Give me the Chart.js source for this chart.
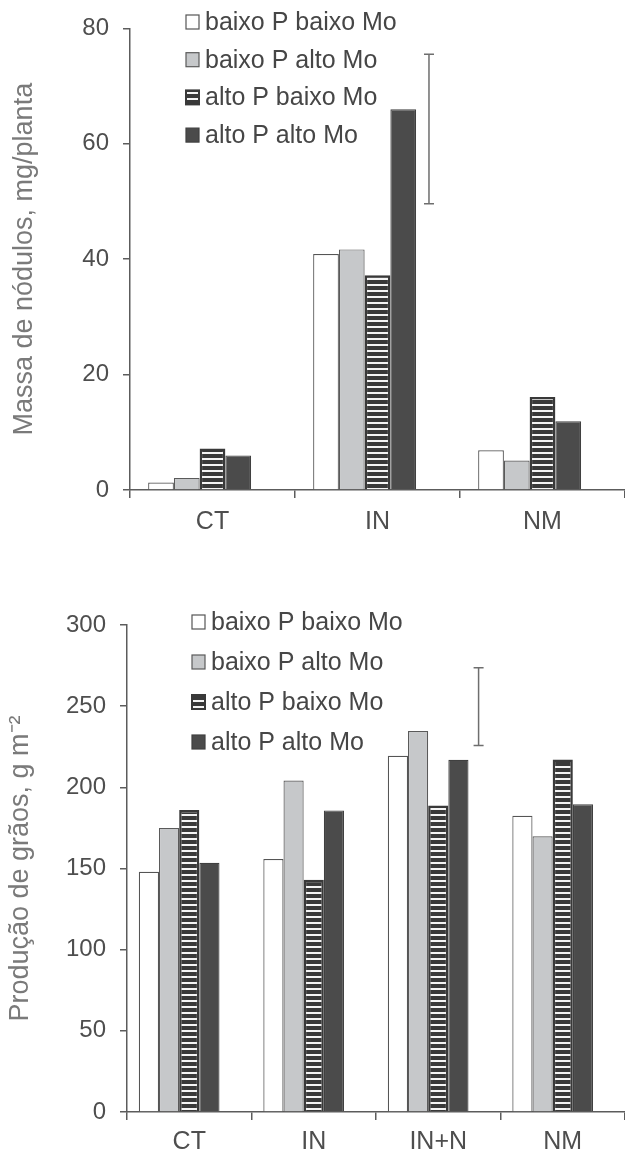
<!DOCTYPE html>
<html lang="pt">
<head>
<meta charset="utf-8">
<title>Massa de nódulos e produção de grãos</title>
<script src="https://cdn.jsdelivr.net/npm/chart.js@4.4.1/dist/chart.umd.min.js"></script>
<style>
  html, body { margin: 0; padding: 0; background: #fff; }
  canvas { display: block; }
</style>
</head>
<body>
<canvas id="chart-nodulos" width="625" height="560"></canvas>
<canvas id="chart-graos" width="625" height="606"></canvas>
<script>
// --- dados ---
const seriesNames = ['baixo P baixo Mo', 'baixo P alto Mo', 'alto P baixo Mo', 'alto P alto Mo'];

// massa de nódulos, mg/planta
const nodCategories = ['CT', 'IN', 'NM'];
const nodBaixoPBaixoMo = [1.3, 40.9, 6.9];
const nodBaixoPAltoMo = [2.1, 41.7, 5.1];
const nodAltoPBaixoMo = [7.2, 37.2, 16.1];
const nodAltoPAltoMo = [6.0, 66.0, 11.9];
const nodLsdLow = [null, 49.6, null];   // barra de DMS
const nodLsdHigh = [null, 75.5, null];

// produção de grãos, g m-2
const graoCategories = ['CT', 'IN', 'IN+N', 'NM'];
const graoBaixoPBaixoMo = [148, 155.8, 219.4, 182.5];
const graoBaixoPAltoMo = [175, 204.2, 234.7, 169.8];
const graoAltoPBaixoMo = [186, 143, 188.8, 217.2];
const graoAltoPAltoMo = [153.5, 185.8, 217, 189.6];
const graoLsdLow = [null, null, 225.7, null];
const graoLsdHigh = [null, null, 273.7, null];

const FONT = '"Liberation Sans", Arial, Helvetica, sans-serif';
Chart.defaults.font.family = FONT;

// listras brancas horizontais para "alto P baixo Mo"
function stripePattern() {
    const c = document.createElement('canvas');
    c.width = 6; c.height = 6;
    const g = c.getContext('2d');
    g.fillStyle = '#393939';
    g.fillRect(0, 0, 6, 6);
    g.fillStyle = '#f4f4f4';
    g.fillRect(0, 2, 6, 2);
    return g.createPattern(c, 'repeat');
}
const stripes = stripePattern();

const seriesStyle = [
    { backgroundColor: '#ffffff', borderColor: '#555555', borderWidth: 1.2 },
    { backgroundColor: '#c6c8ca', borderColor: '#5a5a5a', borderWidth: 1.2 },
    { backgroundColor: stripes, borderColor: '#393939', borderWidth: 2.5 },
    { backgroundColor: '#4b4b4b', borderColor: '#404040', borderWidth: 1.2 }
];

function buildDatasets(seriesValues, lsdHigh) {
    const sets = seriesValues.map((vals, i) => Object.assign({
        label: seriesNames[i],
        data: vals
    }, seriesStyle[i]));
    // quinta série invisível que carrega a barra de DMS
    sets.push({
        label: 'DMS',
        data: lsdHigh,
        backgroundColor: 'rgba(0,0,0,0)',
        borderWidth: 0
    });
    return sets;
}

// legenda em coluna, desenhada dentro da área do gráfico
const columnLegend = {
    id: 'columnLegend',
    afterDraw(chart, args, opts) {
        const ctx = chart.ctx;
        ctx.save();
        ctx.font = '25px ' + FONT;
        ctx.textBaseline = 'middle';
        seriesNames.forEach((name, i) => {
            const ds = chart.data.datasets[i];
            const y = opts.y + i * opts.step;
            ctx.fillStyle = ds.backgroundColor;
            ctx.fillRect(opts.x, y - 7, 13, 14);
            ctx.strokeStyle = ds.borderColor;
            ctx.lineWidth = i === 2 ? 2 : 1.2;
            ctx.strokeRect(opts.x, y - 7, 13, 14);
            ctx.fillStyle = '#464646';
            ctx.fillText(name, opts.x + 19, y + 1);
        });
        ctx.restore();
    }
};

// barra vertical de DMS sobre a série invisível
const lsdBar = {
    id: 'lsdBar',
    afterDatasetsDraw(chart, args, opts) {
        const meta = chart.getDatasetMeta(4);
        const yScale = chart.scales.y;
        const ctx = chart.ctx;
        ctx.save();
        ctx.strokeStyle = '#6e6e6e';
        ctx.lineWidth = 1.5;
        opts.low.forEach((low, i) => {
            if (low === null) return;
            const x = meta.data[i].x;
            const y1 = yScale.getPixelForValue(low);
            const y2 = yScale.getPixelForValue(opts.high[i]);
            ctx.beginPath();
            ctx.moveTo(x, y1); ctx.lineTo(x, y2);
            ctx.moveTo(x - 5, y1); ctx.lineTo(x + 5, y1);
            ctx.moveTo(x - 5, y2); ctx.lineTo(x + 5, y2);
            ctx.stroke();
        });
        ctx.restore();
    }
};

function makeChart(canvasId, cfg) {
    return new Chart(document.getElementById(canvasId), {
        type: 'bar',
        data: {
            labels: cfg.labels,
            datasets: buildDatasets(cfg.series, cfg.lsdHigh)
        },
        plugins: [columnLegend, lsdBar],
        options: {
            responsive: false,
            animation: false,
            datasets: { bar: { categoryPercentage: cfg.catPct, barPercentage: 1 } },
            layout: { padding: { top: cfg.top, right: 0, bottom: 0, left: 0 } },
            plugins: {
                legend: { display: false },
                tooltip: { enabled: false },
                columnLegend: cfg.legend,
                lsdBar: { low: cfg.lsdLow, high: cfg.lsdHigh }
            },
            scales: {
                x: {
                    afterFit: s => { s.height = cfg.xHeight; },
                    border: { color: '#5c5c5c', width: 1.5 },
                    grid: { drawOnChartArea: false, tickLength: 8, color: '#5c5c5c', lineWidth: 1.5 },
                    ticks: { color: '#4e4e4e', font: { size: 25 }, padding: cfg.xPad }
                },
                y: {
                    min: cfg.min, max: cfg.max,
                    afterFit: s => { s.width = cfg.yWidth; },
                    border: { color: '#5c5c5c', width: 1.5 },
                    grid: { drawOnChartArea: false, tickLength: 7, color: '#5c5c5c', lineWidth: 1.5 },
                    ticks: { stepSize: cfg.step, color: '#4e4e4e', font: { size: 24 }, padding: 14 },
                    title: {
                        display: true,
                        text: cfg.title,
                        color: '#7a7a7a',
                        font: { size: 27 },
                        padding: { top: cfg.titlePad, bottom: 0 }
                    }
                }
            }
        }
    });
}

makeChart('chart-nodulos', {
    labels: nodCategories,
    series: [nodBaixoPBaixoMo, nodBaixoPAltoMo, nodAltoPBaixoMo, nodAltoPAltoMo],
    lsdLow: nodLsdLow, lsdHigh: nodLsdHigh,
    min: 0, max: 80, step: 20,
    title: 'Massa de nódulos, mg/planta',
    catPct: 0.78, top: 20, xHeight: 70, xPad: 9, yWidth: 130, titlePad: 8,
    legend: { x: 186, y: 22, step: 37.7 }
});

makeChart('chart-graos', {
    labels: graoCategories,
    series: [graoBaixoPBaixoMo, graoBaixoPAltoMo, graoAltoPBaixoMo, graoAltoPAltoMo],
    lsdLow: graoLsdLow, lsdHigh: graoLsdHigh,
    min: 0, max: 300, step: 50,
    title: 'Produção de grãos, g m⁻²',
    catPct: 0.81, top: 65, xHeight: 54, xPad: 7, yWidth: 127, titlePad: 4,
    legend: { x: 192, y: 62, step: 40 }
});
</script>
</body>
</html>
